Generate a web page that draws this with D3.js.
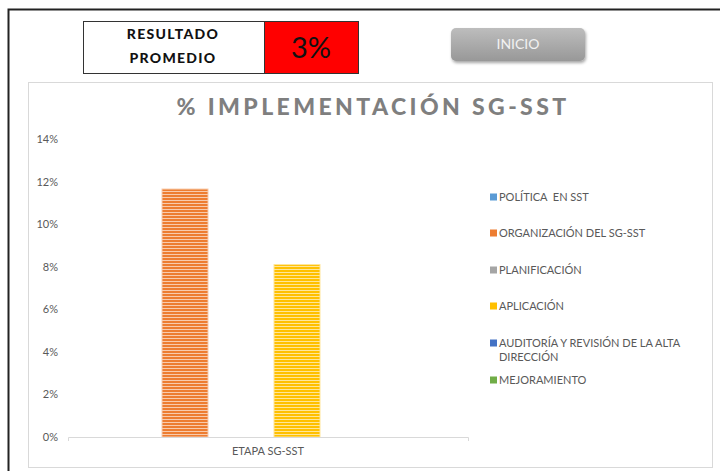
<!DOCTYPE html>
<html>
<head>
<meta charset="utf-8">
<script src="https://cdn.jsdelivr.net/npm/d3@7"></script>
<style>
  body { margin: 0; background: #fff; }
  svg { display: block; font-family: Lato, "Open Sans", sans-serif; }
  .legend text { white-space: pre; }
</style>
</head>
<body>
<script>
// prettier-ignore
const series = ["POLÍTICA  EN SST", "ORGANIZACIÓN DEL SG-SST", "PLANIFICACIÓN", "APLICACIÓN", "AUDITORÍA Y REVISIÓN DE LA ALTA|DIRECCIÓN", "MEJORAMIENTO"];
const values = [0, 0.1165, 0, 0.081, 0, 0];
const colors = ["#5B9BD5", "#ED7D31", "#A5A5A5", "#FFC000", "#4472C4", "#70AD47"];
const stripeColors = ["#9DC3E6", "#F8CBAD", "#D9D9D9", "#FFE699", "#8FAADC", "#A9D18E"];
const categories = ["ETAPA SG-SST"];
const yTicks = [0, 0.02, 0.04, 0.06, 0.08, 0.1, 0.12, 0.14];

const average = d3.mean(values);

const width = 720;
const height = 471;
const plot = { left: 68, right: 468, top: 139, bottom: 437 };

const svg = d3.select("body").append("svg")
  .attr("width", width)
  .attr("height", height);

const defs = svg.append("defs");

// stripe fill for each series
series.forEach((s, i) => {
  const p = defs.append("pattern")
    .attr("id", "stripe" + i)
    .attr("patternUnits", "userSpaceOnUse")
    .attr("width", 6)
    .attr("height", 3);
  p.append("rect").attr("width", 6).attr("height", 3).attr("fill", colors[i]);
  p.append("rect").attr("y", 2).attr("width", 6).attr("height", 1).attr("fill", stripeColors[i]);
});

const grad = defs.append("linearGradient")
  .attr("id", "btn").attr("x1", 0).attr("y1", 0).attr("x2", 0).attr("y2", 1);
grad.append("stop").attr("offset", "0%").attr("stop-color", "#BDBDBD");
grad.append("stop").attr("offset", "100%").attr("stop-color", "#989898");

const shadow = defs.append("filter").attr("id", "shadow")
  .attr("x", "-10%").attr("y", "-20%").attr("width", "130%").attr("height", "160%");
shadow.append("feDropShadow")
  .attr("dx", 1).attr("dy", 2).attr("stdDeviation", 1.5)
  .attr("flood-color", "#000").attr("flood-opacity", 0.35);

// outer sheet frame
svg.append("path")
  .attr("d", `M8.5,${height} V9.5 H${width}`)
  .attr("fill", "none")
  .attr("stroke", "#222")
  .attr("stroke-width", 2);

// chart panel
svg.append("rect")
  .attr("x", 28.5).attr("y", 82.5)
  .attr("width", 684).attr("height", 385)
  .attr("fill", "#fff")
  .attr("stroke", "#D9D9D9");

// result box
const box = svg.append("g");
box.append("rect")
  .attr("x", 83.5).attr("y", 21.5).attr("width", 181).attr("height", 52)
  .attr("fill", "#fff").attr("stroke", "#333");
box.append("rect")
  .attr("x", 264.5).attr("y", 21.5).attr("width", 94).attr("height", 52)
  .attr("fill", "#FF0000").attr("stroke", "#333");
box.selectAll("text.lbl")
  .data(["RESULTADO", "PROMEDIO"])
  .join("text")
  .attr("class", "lbl")
  .attr("x", 173)
  .attr("y", (d, i) => 39 + i * 24)
  .attr("text-anchor", "middle")
  .attr("font-size", 14)
  .attr("font-weight", 900)
  .attr("letter-spacing", 1.3)
  .attr("fill", "#111")
  .text((d) => d);
box.append("text")
  .attr("x", 311).attr("y", 58)
  .attr("text-anchor", "middle")
  .attr("font-size", 29)
  .attr("fill", "#111")
  .text(d3.format(".0%")(average));

// INICIO button
svg.append("rect")
  .attr("x", 451).attr("y", 28).attr("width", 134).attr("height", 33)
  .attr("rx", 5)
  .attr("fill", "url(#btn)")
  .attr("filter", "url(#shadow)");
svg.append("text")
  .attr("x", 518).attr("y", 49)
  .attr("text-anchor", "middle")
  .attr("font-size", 14)
  .attr("fill", "#F2F2F2")
  .text("INICIO");

// title
svg.append("text")
  .attr("x", 373).attr("y", 115)
  .attr("text-anchor", "middle")
  .attr("font-size", 23)
  .attr("font-weight", 900)
  .attr("letter-spacing", 3.4)
  .attr("fill", "#7F7F7F")
  .text("% IMPLEMENTACIÓN SG-SST");

// scales
const xScale = d3.scaleBand()
  .domain(categories)
  .range([plot.left, plot.right]);

const xInner = d3.scaleBand()
  .domain(series)
  .range([xScale(categories[0]) + 38, xScale(categories[0]) + xScale.bandwidth() - 36])
  .paddingInner(10 / 56);

const yScale = d3.scaleLinear()
  .domain([0, 0.14])
  .range([plot.bottom, plot.top]);

// y axis labels
const yAxis = d3.axisLeft(yScale)
  .tickValues(yTicks)
  .tickFormat(d3.format(".0%"))
  .tickSize(0)
  .tickPadding(10);

const gy = svg.append("g")
  .attr("transform", `translate(${plot.left},0)`)
  .call(yAxis);
gy.select(".domain").remove();
gy.selectAll("text")
  .attr("font-family", "Lato, sans-serif")
  .attr("font-size", 11)
  .attr("fill", "#595959");

// bars
svg.append("g")
  .selectAll("rect")
  .data(series.map((s, i) => ({ s, v: values[i], i })))
  .join("rect")
  .attr("x", (d) => xInner(d.s))
  .attr("width", xInner.bandwidth())
  .attr("y", (d) => yScale(d.v))
  .attr("height", (d) => yScale(0) - yScale(d.v))
  .attr("fill", (d) => `url(#stripe${d.i})`)
  .attr("stroke", (d) => stripeColors[d.i])
  .attr("stroke-width", 1);

// x axis
const xAxis = d3.axisBottom(xScale)
  .tickSizeInner(0)
  .tickSizeOuter(4)
  .tickPadding(10);

const gx = svg.append("g")
  .attr("transform", `translate(0,${plot.bottom})`)
  .call(xAxis);
gx.select(".domain").attr("stroke", "#D9D9D9");
gx.selectAll("text")
  .attr("font-family", "Lato, sans-serif")
  .attr("font-size", 11)
  .attr("fill", "#595959");

// legend
const legendY = [197, 233, 270, 306, 343, 380];
const legend = svg.append("g").attr("class", "legend");
const items = legend.selectAll("g")
  .data(series)
  .join("g")
  .attr("transform", (d, i) => `translate(490,${legendY[i]})`);
items.append("rect")
  .attr("x", 0).attr("y", -3.5)
  .attr("width", 7).attr("height", 7)
  .attr("fill", (d, i) => colors[i]);
items.append("text")
  .attr("font-size", 11)
  .attr("fill", "#595959")
  .selectAll("tspan")
  .data((d) => d.split("|"))
  .join("tspan")
  .attr("x", 9)
  .attr("y", (d, i) => 4 + i * 14)
  .text((d) => d);
</script>
</body>
</html>
